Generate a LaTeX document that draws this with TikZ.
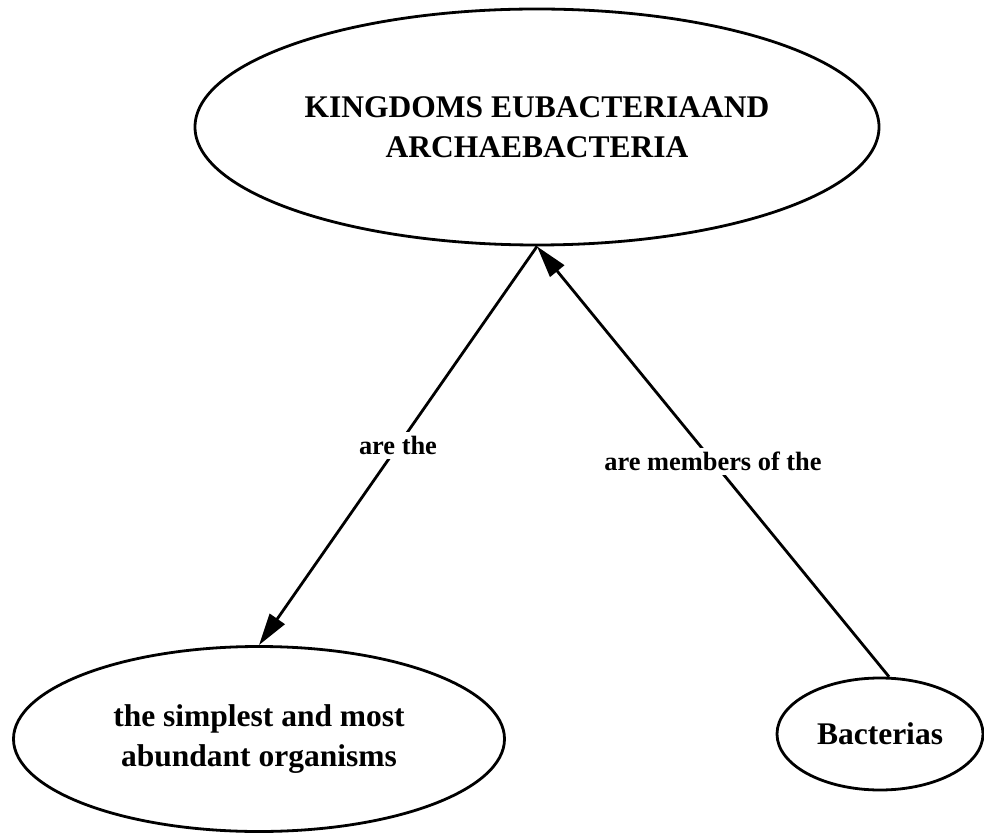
\documentclass[tikz,border=0pt]{standalone}
\usepackage{fontspec}
\setmainfont{Liberation Serif}
\usetikzlibrary{shapes.geometric,arrows.meta}

\tikzset{
  concept/.style={ellipse, draw, line width=1.4pt, align=center, inner sep=0pt,
    font=\bfseries\fontsize{15.75}{20}\selectfont},
  link/.style={fill=white, inner sep=2pt, font=\bfseries\fontsize{13.2}{16}\selectfont},
}

\begin{document}
\begin{tikzpicture}[x=0.5pt, y=-0.5pt, >={Triangle[length=16pt,width=9pt]}, line width=1.4pt]
      \useasboundingbox (0,0) rectangle (984,833);
      % the three concepts
      \node[concept, minimum width=342pt, minimum height=118pt] (kingdoms) at (537,127) {KINGDOMS EUBACTERIAAND\\ARCHAEBACTERIA};
      \node[concept, minimum width=245.5pt, minimum height=92.5pt] (simplest) at (259,739) {the simplest and most\\abundant organisms};
      \node[concept, minimum width=103pt, minimum height=56pt] (bacterias) at (880,734) {Bacterias};
      % linking phrases
      \draw[->] (kingdoms.south) -- node[link] {are the} (simplest.north);
      \draw[->] (bacterias.81) -- node[link] {are members of the} (kingdoms.south);
    \end{tikzpicture}
\end{document}
